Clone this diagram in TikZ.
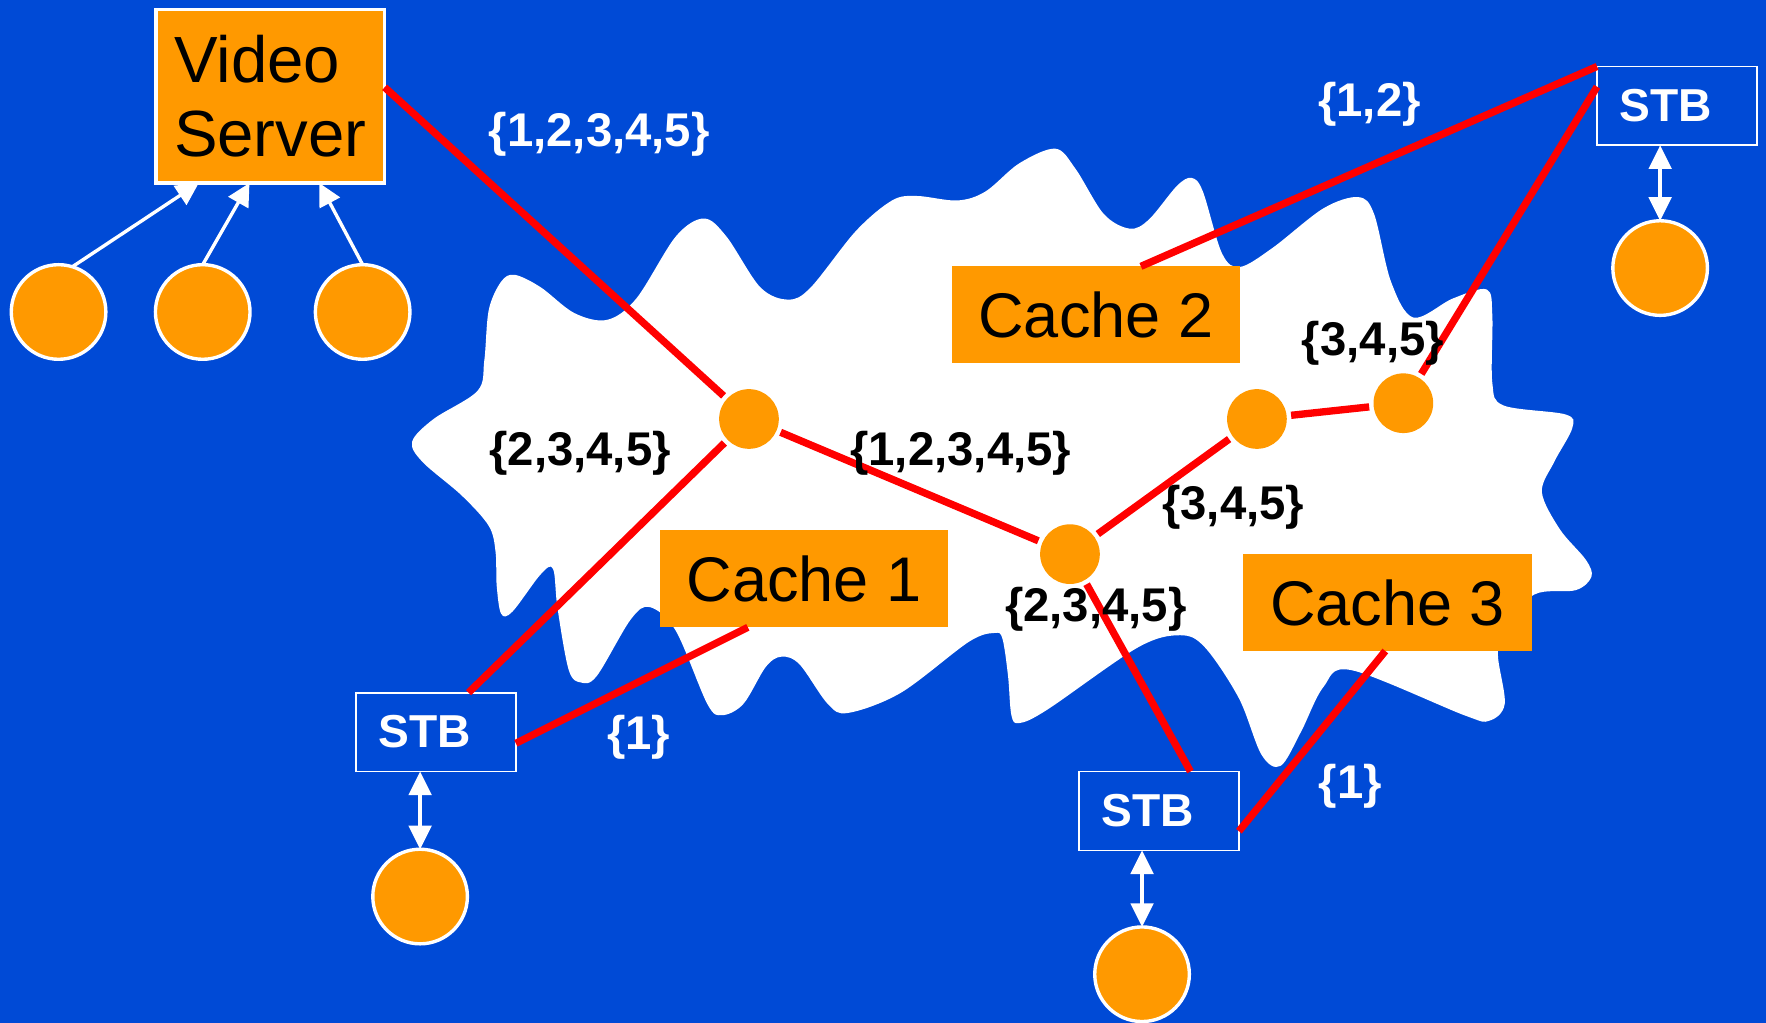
\documentclass[tikz,border=0pt]{standalone}
\usepackage{fontspec}
\setmainfont{Liberation Sans}
\usetikzlibrary{arrows.meta}
\definecolor{bgblue}{RGB}{0,74,214}
\definecolor{boxorange}{RGB}{255,153,0}
\definecolor{linkred}{RGB}{255,0,0}

\begin{document}
\begin{tikzpicture}[x=1pt,y=-1pt,
  every node/.style={inner sep=0pt, outer sep=0pt},
  server/.style={draw=white, line width=3pt, fill=boxorange, minimum width=203pt,
    minimum height=154pt, align=left, font=\fontsize{58}{66}\selectfont},
  cachebox/.style={fill=boxorange, minimum width=256pt, minimum height=86pt,
    font=\fontsize{56}{60}\selectfont},
  stbbox/.style={draw=white, line width=1.5pt, minimum height=70pt, text width=102pt,
    inner xsep=20pt, align=left, text=white, font=\fontsize{41}{44}\selectfont\bfseries},
  user/.style={circle, fill=boxorange, draw=white, line width=3pt, minimum size=84pt},
  hop/.style={circle, fill=boxorange, minimum size=53pt},
  link/.style={draw=linkred, line width=6.5pt},
  wlabel/.style={text=white, font=\fontsize{42}{46}\selectfont\bfseries},
  blabel/.style={text=black, font=\fontsize{42}{46}\selectfont\bfseries},
  uparrow/.style={draw=white, line width=3pt, -{Triangle[length=20pt,width=20pt]}},
  biarrow/.style={draw=white, line width=3pt,
    {Triangle[length=21pt,width=20pt]}-{Triangle[length=21pt,width=20pt]}},
]
\path[use as bounding box] (0,0) rectangle (1568,908);
\fill[bgblue] (0,0) rectangle (1568,908);

% network cloud
\fill[white] plot[smooth cycle, tension=0.55] coordinates {
  (366,392) (385,372) (424,347) (430,320) (434,275) (445,250) (457,244)
  (480,255) (510,278) (539,284) (565,265) (600,210) (625,194) (645,210)
  (675,255) (700,266) (720,255) (760,205) (792,178) (814,174) (850,178)
  (875,170) (905,145) (937,132) (955,150) (980,190) (1003,203) (1020,195)
  (1045,165) (1058,158) (1068,170) (1085,225) (1101,237) (1130,220)
  (1175,185) (1206,175) (1220,190) (1235,250) (1255,282) (1290,265)
  (1320,257) (1325,280) (1325,340) (1335,360) (1390,368) (1396,380)
  (1380,410) (1369,437) (1385,470) (1408,497) (1413,512) (1399,524)
  (1362,528) (1335,560) (1330,582) (1336,625) (1322,640) (1300,635)
  (1200,595) (1175,610) (1155,650) (1137,680) (1120,670) (1100,620)
  (1070,575) (1048,564) (1010,575) (930,630) (905,642) (898,635)
  (895,600) (890,567) (883,562) (860,570) (800,615) (753,633) (735,625)
  (710,590) (694,583) (680,592) (660,625) (641,635) (628,625) (600,560)
  (577,539) (560,550) (530,600) (516,606) (505,595) (495,540) (491,505)
  (480,510) (455,543) (445,545) (441,520) (440,490) (434,467) (410,440)
  (375,410)};

% server and its clients
\node[server] (vs) at (240,85.5) {Video\\Server};
\node[user] (u1) at (52,277) {};
\node[user] (u2) at (180,277) {};
\node[user] (u3) at (322,277) {};

% caches
\node[cachebox] (cache1) at (714,514) {Cache 1};
\node[cachebox] (cache2) at (973,279.5) {Cache 2};
\node[cachebox] (cache3) at (1232,535) {Cache 3};

% routers inside the network
\node[hop] (A) at (665,372) {};
\node[hop] (B) at (950,492) {};
\node[hop] (C) at (1116,372) {};
\node[hop] (D) at (1246,358) {};

% set-top boxes and viewers
\node[stbbox] (stbL) at (387,650) {STB};
\node[stbbox] (stbB) at (1029,720) {STB};
\node[stbbox] (stbR) at (1489,94) {STB};
\node[user] (uL) at (373,796) {};
\node[user] (uB) at (1014,865) {};
\node[user] (uR) at (1474,238) {};

% delivery paths
\draw[link, shorten >=4pt] ([yshift=8pt]vs.east) -- (A);
\draw[link, shorten <=4pt] (A) -- ([xshift=100pt]stbL.north west);
\draw[link, shorten <=4pt, shorten >=4pt] (A) -- (B);
\draw[link, shorten <=4pt, shorten >=4pt] (B) -- (C);
\draw[link, shorten <=4pt, shorten >=4pt] (C) -- (D);
\draw[link, shorten <=4pt] (D) -- ([yshift=-18pt]stbR.north west);
\draw[link] ([xshift=168pt]cache2.north west) -- (stbR.north west);
\draw[link] ([xshift=78pt]cache1.south west) -- ([yshift=-45pt]stbL.north east);
\draw[link, shorten <=4pt] (B) -- ([xshift=99pt]stbB.north west);
\draw[link] ([xshift=126pt]cache3.south west) -- ([yshift=-53pt]stbB.north east);

% requests to the server
\draw[uparrow] (u1.73) -- ([xshift=38pt]vs.south west);
\draw[uparrow] (u2.north) -- ([xshift=83pt]vs.south west);
\draw[uparrow] (u3.north) -- ([xshift=145pt]vs.south west);

% set-top box to viewer
\draw[biarrow] ([xshift=-14pt]stbL.south) -- (uL.north);
\draw[biarrow] ([xshift=-15pt]stbB.south) -- (uB.north);
\draw[biarrow] ([xshift=-15pt]stbR.south) -- (uR.north);

% segment sets
\node[wlabel] (l1) at (532,119) {\{1,2,3,4,5\}};
\node[wlabel] (l2) at (1216,93) {\{1,2\}};
\node[blabel] (l3) at (515,402) {\{2,3,4,5\}};
\node[blabel] (l4) at (853,402) {\{1,2,3,4,5\}};
\node[blabel] (l5) at (1219,305) {\{3,4,5\}};
\node[blabel] (l6) at (1095,450) {\{3,4,5\}};
\node[blabel] (l7) at (973,541) {\{2,3,4,5\}};
\node[wlabel] (l8) at (567,655) {\{1\}};
\node[wlabel] (l9) at (1199,698) {\{1\}};
\end{tikzpicture}
\end{document}
